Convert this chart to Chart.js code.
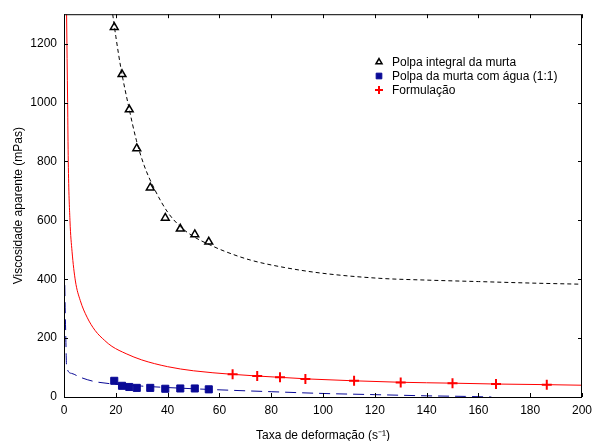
<!DOCTYPE html>
<html>
<head>
<meta charset="utf-8">
<script src="https://cdn.jsdelivr.net/npm/chart.js@4/dist/chart.umd.min.js"></script>
<style>
  html, body { margin: 0; padding: 0; background: #fff; }
  #wrap { width: 592px; height: 441px; position: relative; }
</style>
</head>
<body>
<div id="wrap"><canvas id="chart"></canvas></div>
<script>
// Viscosidade aparente x taxa de deformação — pontos medidos e curvas ajustadas

const xTicks = [0, 20, 40, 60, 80, 100, 120, 140, 160, 180, 200];
const yTicks = [0, 200, 400, 600, 800, 1000, 1200];

// pontos medidos
const taxaPolpa = [19.4, 22.4, 25.2, 28.1, 33.3, 39.1, 44.9, 50.5, 55.9];
const viscIntegral = [1256, 1096, 976, 844, 711, 608, 571, 552, 527];
const viscAgua = [55, 38, 34, 31, 31, 28, 29, 29, 26];
const taxaFormulacao = [65.1, 74.6, 83.4, 93.2, 112, 130, 150, 166.8, 186.4];
const viscFormulacao = [77, 71, 67, 61, 55, 49, 47, 44, 42];

// curvas ajustadas
const ajusteIntegralX = [18.8, 20, 22, 25, 28, 31, 35, 40, 45, 50, 56, 62, 72, 85, 100, 122, 140, 160, 180, 200];
const ajusteIntegralY = [1300, 1225, 1115, 985, 870, 785, 705, 628, 578, 545, 518, 495, 465, 440, 420, 403, 397, 392, 387, 383];
const ajusteAguaX = [0.3, 0.5, 0.7, 0.85, 1, 3, 6, 11, 18, 30, 45, 61, 80, 100, 120, 140, 155, 165];
const ajusteAguaY = [380, 280, 200, 140, 102, 80, 68, 54, 45, 37, 30, 24, 18, 12, 8, 4, 2, 0];
const ajusteFormX = [1.0, 1.2, 1.4, 1.65, 2.3, 3.1, 4.4, 6.3, 8.9, 12, 15.7, 18.5, 24, 30, 40, 50, 65, 75, 85, 95, 112, 130, 150, 167, 186, 200];
const ajusteFormY = [1300, 1150, 1000, 800, 600, 495, 394, 327, 271, 226, 192, 172, 147, 126, 103, 89, 77, 71, 66, 61, 55, 50, 47, 44, 42, 40];

const FONT = "'Liberation Sans', Arial, sans-serif";
const BLUE = '#0a0a96';

const pts = (xs, ys) => xs.map((x, i) => ({ x, y: ys[i] }));

// moldura completa e marcas internas nos quatro lados
const framePlugin = {
  id: 'frame',
  afterDraw(chart) {
    const { ctx, chartArea: a, scales } = chart;
    ctx.save();
    ctx.strokeStyle = '#000';
    ctx.lineWidth = 1;
    ctx.strokeRect(a.left + 0.5, a.top + 0.5, a.right - a.left - 1, a.bottom - a.top);
    ctx.beginPath();
    xTicks.forEach(v => {
      const px = Math.round(scales.x.getPixelForValue(v)) + 0.5;
      ctx.moveTo(px, a.bottom); ctx.lineTo(px, a.bottom - 4);
      ctx.moveTo(px, a.top); ctx.lineTo(px, a.top + 4);
    });
    yTicks.forEach(v => {
      const py = Math.round(scales.y.getPixelForValue(v)) + 0.5;
      ctx.moveTo(a.left, py); ctx.lineTo(a.left + 4, py);
      ctx.moveTo(a.right, py); ctx.lineTo(a.right - 4, py);
    });
    ctx.stroke();
    ctx.restore();
  }
};

// legenda dentro da área do gráfico
const legendPlugin = {
  id: 'innerLegend',
  afterDraw(chart) {
    const { ctx } = chart;
    ctx.save();
    ctx.font = `12px ${FONT}`;
    ctx.textBaseline = 'middle';
    chart.data.datasets.filter(d => d.legendText).forEach((d, i) => {
      const y = 62 + i * 14;
      ctx.strokeStyle = d.borderColor;
      ctx.fillStyle = d.backgroundColor;
      ctx.lineWidth = d.borderWidth;
      Chart.helpers.drawPoint(ctx, {
        pointStyle: d.pointStyle, radius: d.legendRadius,
        borderWidth: d.borderWidth, rotation: 0
      }, 379, y);
      ctx.fillStyle = '#000';
      ctx.fillText(d.legendText, 392, y + 0.5);
    });
    ctx.restore();
  }
};

new Chart(document.getElementById('chart'), {
  type: 'scatter',
  data: {
    datasets: [
      {
        data: pts(ajusteIntegralX, ajusteIntegralY),
        showLine: true, pointRadius: 0, borderColor: '#000', borderWidth: 1,
        borderDash: [4, 3], cubicInterpolationMode: 'monotone'
      },
      {
        data: pts(ajusteAguaX, ajusteAguaY),
        showLine: true, pointRadius: 0, borderColor: BLUE, borderWidth: 1,
        borderDash: [11, 6], cubicInterpolationMode: 'monotone'
      },
      {
        data: pts(ajusteFormX, ajusteFormY),
        showLine: true, pointRadius: 0, borderColor: '#ff0000', borderWidth: 1,
        cubicInterpolationMode: 'monotone'
      },
      {
        legendText: 'Polpa integral da murta',
        data: pts(taxaPolpa, viscIntegral),
        pointStyle: 'triangle', pointRadius: 4.5, legendRadius: 3.5,
        backgroundColor: '#fff', borderColor: '#000', borderWidth: 1.5
      },
      {
        legendText: 'Polpa da murta com água (1:1)',
        data: pts(taxaPolpa, viscAgua),
        pointStyle: 'rect', pointRadius: 5, legendRadius: 4,
        backgroundColor: BLUE, borderColor: BLUE, borderWidth: 1
      },
      {
        legendText: 'Formulação',
        data: pts(taxaFormulacao, viscFormulacao),
        pointStyle: 'cross', pointRadius: 5, legendRadius: 4,
        backgroundColor: '#ff0000', borderColor: '#ff0000', borderWidth: 2
      }
    ]
  },
  options: {
    responsive: true,
    maintainAspectRatio: false,
    animation: false,
    layout: { padding: { top: 12, right: 10, left: 0, bottom: 0 } },
    plugins: { legend: { display: false }, tooltip: { enabled: false } },
    scales: {
      x: {
        type: 'linear', min: 0, max: 200,
        grid: { display: false, drawTicks: false },
        border: { display: false },
        ticks: { stepSize: 20, padding: 6, color: '#000', font: { family: FONT, size: 12 } },
        title: {
          display: true, text: 'Taxa de deformação (s⁻¹)', color: '#000',
          font: { family: FONT, size: 12 }, padding: { top: 0, bottom: -2 }
        },
        afterFit(scale) {
          scale.height = 44;
          scale.paddingLeft = 0;
          scale.paddingRight = 0;
        }
      },
      y: {
        type: 'linear', min: 0, max: 1300,
        grid: { display: false, drawTicks: false },
        border: { display: false },
        ticks: {
          stepSize: 200, padding: 7, color: '#000', font: { family: FONT, size: 12 },
          callback: v => String(v)
        },
        afterBuildTicks(scale) { scale.ticks = scale.ticks.filter(t => t.value % 200 === 0); },
        title: {
          display: true, text: 'Viscosidade aparente (mPas)', color: '#000',
          font: { family: FONT, size: 12 }, padding: { top: 11, bottom: 4 }
        },
        afterFit(scale) { scale.width = 64; }
      }
    }
  },
  plugins: [framePlugin, legendPlugin]
});
</script>
</body>
</html>
